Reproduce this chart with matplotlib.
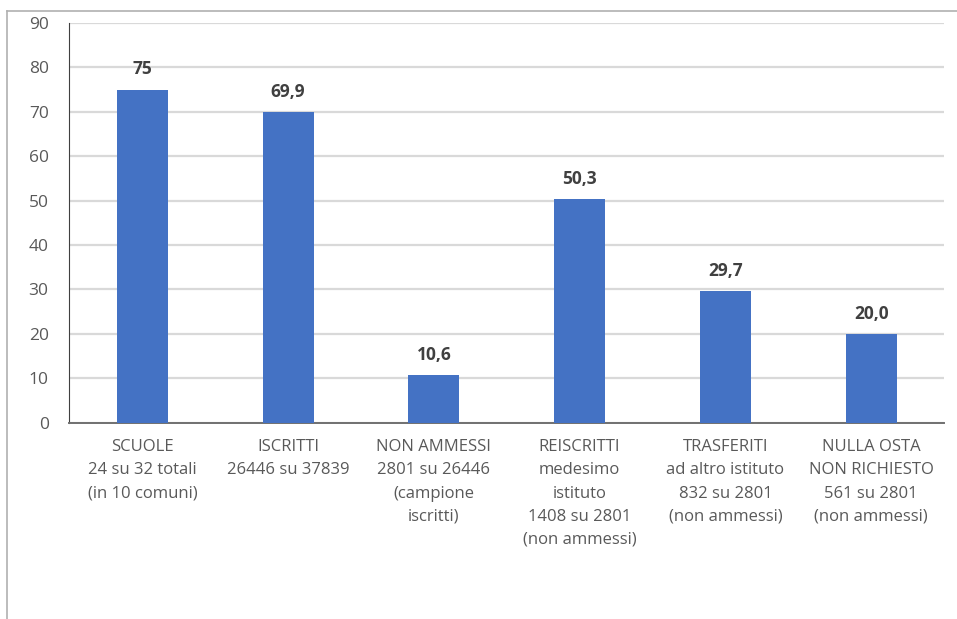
import matplotlib
matplotlib.use("Agg")
import matplotlib.pyplot as plt
from matplotlib.lines import Line2D

categories = [
    "SCUOLE\n24 su 32 totali\n(in 10 comuni)",
    "ISCRITTI\n26446 su 37839",
    "NON AMMESSI\n2801 su 26446\n(campione\niscritti)",
    "REISCRITTI\nmedesimo\nistituto\n1408 su 2801\n(non ammessi)",
    "TRASFERITI\nad altro istituto\n832 su 2801\n(non ammessi)",
    "NULLA OSTA\nNON RICHIESTO\n561 su 2801\n(non ammessi)",
]
values = [75, 69.9, 10.6, 50.3, 29.7, 20.0]
value_labels = ["75", "69,9", "10,6", "50,3", "29,7", "20,0"]
yticks = [0, 10, 20, 30, 40, 50, 60, 70, 80, 90]

plt.rcParams['font.family'] = ['Open Sans', 'DejaVu Sans']

fig = plt.figure(figsize=(9.57, 6.19), dpi=100)
ax = fig.add_axes([0.0726, 0.3174, 0.9864 - 0.0726, 0.9628 - 0.3174])

x = list(range(len(categories)))
bars = ax.bar(x, values, width=0.35, color="#4472C4", zorder=3)

for xi, v, lab in zip(x, values, value_labels):
    ax.annotate(lab, (xi, v), xytext=(0, 8), textcoords="offset points",
                ha="center", va="bottom", fontsize=12.5, fontweight="bold",
                color="#404040")

ax.set_xlim(-0.5, 5.5)
ax.set_ylim(0, 90)
ax.set_yticks(yticks)
ax.set_yticklabels([str(t) for t in yticks])
ax.set_xticks(x)
ax.set_xticklabels(categories, fontsize=12, color="#595959", linespacing=1.6)
ax.tick_params(axis="x", length=0, pad=12)
ax.tick_params(axis="y", length=0, pad=15, labelsize=12.5, labelcolor="#595959")

ax.grid(axis="y", color="#d9d9d9", linewidth=1.6, zorder=0)
ax.set_axisbelow(True)
for s in ["top", "right"]:
    ax.spines[s].set_visible(False)
ax.spines["left"].set_color("#404040")
ax.spines["left"].set_linewidth(0.8)
ax.spines["bottom"].set_color("#707070")
ax.spines["bottom"].set_linewidth(1.4)

# outer frame lines (top and left)
fig.add_artist(Line2D([7 / 957, 1.0], [1 - 10.5 / 619, 1 - 10.5 / 619],
                      transform=fig.transFigure, color="#b0b0b0", linewidth=1.2))
fig.add_artist(Line2D([7 / 957, 7 / 957], [0, 1 - 10.5 / 619],
                      transform=fig.transFigure, color="#b0b0b0", linewidth=1.2))

fig.savefig("out.png", dpi=100)
